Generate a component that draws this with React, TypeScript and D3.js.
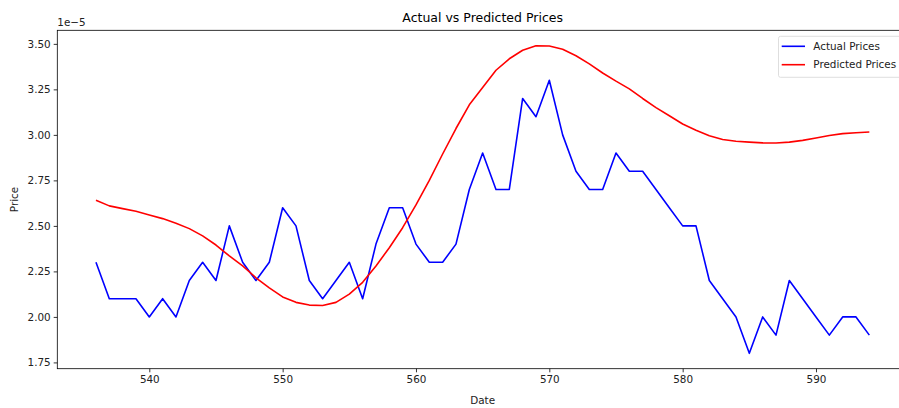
import React, { useEffect, useRef } from 'react';
import * as d3 from 'd3';

// dates (index) 536..594
const dates = [
  536, 537, 538, 539, 540, 541, 542, 543, 544, 545, 546, 547, 548, 549, 550,
  551, 552, 553, 554, 555, 556, 557, 558, 559, 560, 561, 562, 563, 564, 565,
  566, 567, 568, 569, 570, 571, 572, 573, 574, 575, 576, 577, 578, 579, 580,
  581, 582, 583, 584, 585, 586, 587, 588, 589, 590, 591, 592, 593, 594,
];

// values in units of 1e-5
const actual = [
  2.3, 2.1, 2.1, 2.1, 2.0, 2.1, 2.0, 2.2, 2.3, 2.2, 2.5, 2.3, 2.2, 2.3, 2.6,
  2.5, 2.2, 2.1, 2.2, 2.3, 2.1, 2.4, 2.6, 2.6, 2.4, 2.3, 2.3, 2.4, 2.7, 2.9,
  2.7, 2.7, 3.2, 3.1, 3.3, 3.0, 2.8, 2.7, 2.7, 2.9, 2.8, 2.8, 2.7, 2.6, 2.5,
  2.5, 2.2, 2.1, 2.0, 1.8, 2.0, 1.9, 2.2, 2.1, 2.0, 1.9, 2.0, 2.0, 1.9,
];

const predicted = [
  2.641, 2.61, 2.595, 2.58, 2.56, 2.54, 2.515, 2.485, 2.445, 2.395, 2.335, 2.28, 2.215, 2.16, 2.11,
  2.08, 2.065, 2.063, 2.08, 2.125, 2.19, 2.28, 2.38, 2.49, 2.615, 2.75, 2.895, 3.035, 3.165, 3.26,
  3.355, 3.418, 3.465, 3.49, 3.488, 3.47, 3.435, 3.39, 3.34, 3.295, 3.253, 3.2, 3.15, 3.105, 3.06,
  3.025, 2.995, 2.975, 2.965, 2.96, 2.956, 2.955, 2.96, 2.97, 2.983, 2.997, 3.007, 3.012, 3.016,
];

const xTicks = [540, 550, 560, 570, 580, 590];
const yTicks = [1.75, 2.0, 2.25, 2.5, 2.75, 3.0, 3.25, 3.5];

const W = 899;
const H = 408;
const FONT = 'DejaVu Sans, sans-serif';

const App = () => {
  const ref = useRef<SVGSVGElement>(null);

  useEffect(() => {
    const svg = d3.select(ref.current);
    svg.selectAll('*').remove();

    const left = 57.3, right = 908, top = 30.3, bottom = 368.7;

    const xMin = d3.min(dates)!, xMax = d3.max(dates)!;
    const xPad = (xMax - xMin) * 0.05;
    const x = d3.scaleLinear().domain([xMin - xPad, xMax + xPad]).range([left, right]);

    const all = actual.concat(predicted);
    const yMin = d3.min(all)!, yMax = d3.max(all)!;
    const yPad = (yMax - yMin) * 0.05;
    const y = d3.scaleLinear().domain([yMin - yPad, yMax + yPad]).range([bottom, top]);

    const line = d3.line<number>()
      .x((_, i) => x(dates[i]))
      .y(d => y(d));

    svg.append('rect').attr('width', W).attr('height', H).attr('fill', '#fff');

    svg.append('path')
      .datum(actual)
      .attr('d', line)
      .attr('fill', 'none')
      .attr('stroke', '#0000ff')
      .attr('stroke-width', 1.6)
      .attr('stroke-linejoin', 'round');

    svg.append('path')
      .datum(predicted)
      .attr('d', line)
      .attr('fill', 'none')
      .attr('stroke', '#ff0000')
      .attr('stroke-width', 1.6)
      .attr('stroke-linejoin', 'round');

    // axes
    const xAxis = svg.append('g')
      .attr('transform', `translate(0,${bottom})`)
      .call(d3.axisBottom(x).tickValues(xTicks).tickSize(3.6).tickPadding(3).tickFormat(d3.format('d')));
    const yAxis = svg.append('g')
      .attr('transform', `translate(${left},0)`)
      .call(d3.axisLeft(y).tickValues(yTicks).tickSize(3.6).tickPadding(3).tickFormat(d3.format('.2f')));

    [xAxis, yAxis].forEach(g => {
      g.select('.domain').remove();
      g.selectAll('line').attr('stroke', '#000').attr('stroke-width', 0.8);
      g.selectAll('text').attr('font-family', FONT).attr('font-size', 10.4).attr('fill', '#222');
    });

    // spines
    svg.append('rect')
      .attr('x', left).attr('y', top)
      .attr('width', right - left).attr('height', bottom - top)
      .attr('fill', 'none').attr('stroke', '#000').attr('stroke-width', 0.8);

    // texts
    svg.append('text')
      .attr('x', (left + right) / 2).attr('y', 22)
      .attr('text-anchor', 'middle')
      .attr('font-family', FONT).attr('font-size', 12.5).attr('fill', '#000')
      .text('Actual vs Predicted Prices');

    svg.append('text')
      .attr('x', (left + right) / 2).attr('y', 404)
      .attr('text-anchor', 'middle')
      .attr('font-family', FONT).attr('font-size', 10.4).attr('fill', '#222')
      .text('Date');

    svg.append('text')
      .attr('transform', `translate(18,${(top + bottom) / 2}) rotate(-90)`)
      .attr('text-anchor', 'middle')
      .attr('font-family', FONT).attr('font-size', 10.4).attr('fill', '#222')
      .text('Price');

    svg.append('text')
      .attr('x', left).attr('y', 26)
      .attr('font-family', FONT).attr('font-size', 10.4).attr('fill', '#222')
      .text('1e\u22125');

    // legend
    const leg = svg.append('g').attr('transform', 'translate(778.5,36.3)');
    leg.append('rect')
      .attr('width', 135).attr('height', 41).attr('rx', 2)
      .attr('fill', '#fff').attr('fill-opacity', 0.8)
      .attr('stroke', '#d5d5d5').attr('stroke-width', 0.8);
    const items = [
      { label: 'Actual Prices', color: '#0000ff' },
      { label: 'Predicted Prices', color: '#ff0000' },
    ];
    items.forEach((it, i) => {
      const yy = 10 + i * 18.4;
      leg.append('line')
        .attr('x1', 3.2).attr('x2', 26.5).attr('y1', yy).attr('y2', yy)
        .attr('stroke', it.color).attr('stroke-width', 1.6);
      leg.append('text')
        .attr('x', 34.8).attr('y', yy + 3.8)
        .attr('font-family', FONT).attr('font-size', 10.4).attr('fill', '#222')
        .text(it.label);
    });
  }, []);

  return (
    <div style={{ position: 'absolute', left: 0, top: 0 }}>
      <svg ref={ref} width={W} height={H} style={{ display: 'block' }} />
    </div>
  );
};

export default App;
